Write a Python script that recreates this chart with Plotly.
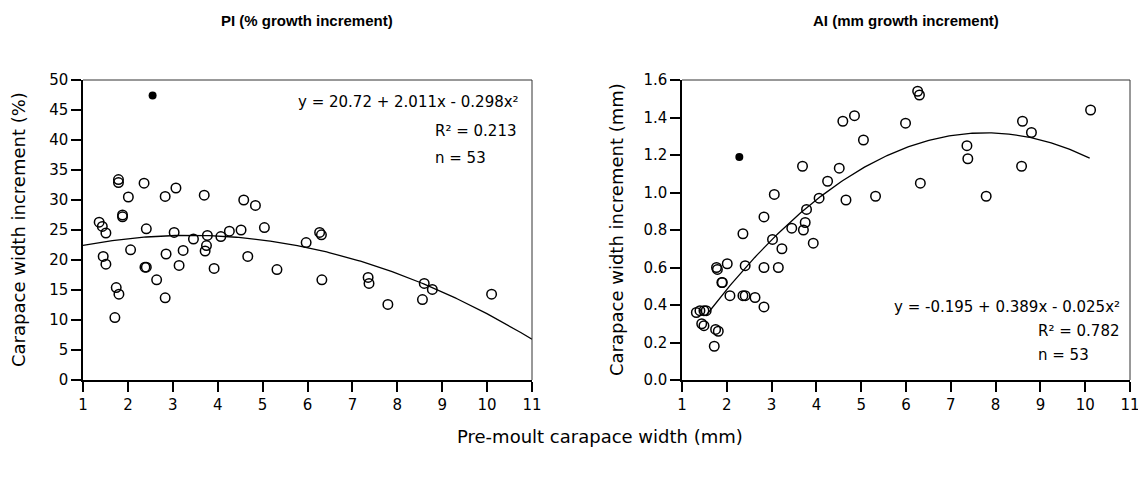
import numpy as np
import plotly.graph_objects as go

# ---------------- data ----------------
pi_x = [1.36, 1.43, 1.51, 1.45, 1.51, 1.79, 1.79, 1.88, 1.88, 1.74, 1.80, 1.71, 2.01, 2.06,
        2.36, 2.41, 2.38, 2.41, 2.64, 2.83, 2.85, 2.83, 3.07, 3.03, 3.14, 3.23, 3.46, 3.70,
        3.77, 3.75, 3.72, 3.92, 4.07, 4.26, 4.52, 4.58, 4.84, 4.67, 5.04, 5.32, 5.97, 6.27,
        6.31, 6.32, 7.35, 7.37, 7.79, 8.56, 8.60, 8.78, 10.10]
pi_y = [26.3, 25.6, 24.5, 20.6, 19.3, 33.4, 32.9, 27.5, 27.2, 15.4, 14.3, 10.4, 30.5, 21.7,
        32.8, 25.2, 18.8, 18.8, 16.7, 30.6, 21.0, 13.7, 32.0, 24.6, 19.1, 21.6, 23.5, 30.8,
        24.1, 22.4, 21.5, 18.6, 23.9, 24.8, 25.0, 30.0, 29.1, 20.6, 25.4, 18.4, 22.9, 24.6,
        24.2, 16.7, 17.1, 16.1, 12.6, 13.4, 16.1, 15.1, 14.3]
pi_out_x = [2.55]
pi_out_y = [47.4]
pi_coef = [20.72, 2.011, -0.298]

ai_x = [1.32, 1.40, 1.49, 1.54, 1.44, 1.49, 1.72, 1.75, 1.81, 1.77, 1.79, 1.89, 1.90, 2.01,
        2.07, 2.36, 2.41, 2.36, 2.41, 2.63, 2.83, 2.83, 2.83, 3.06, 3.02, 3.15, 3.23, 3.45,
        3.69, 3.71, 3.75, 3.78, 3.93, 4.06, 4.25, 4.51, 4.59, 4.85, 4.66, 5.05, 6.26, 6.30,
        5.99, 6.32, 5.32, 7.36, 7.38, 7.79, 8.60, 8.80, 8.58, 10.12]
ai_y = [0.36, 0.37, 0.37, 0.37, 0.30, 0.29, 0.18, 0.27, 0.26, 0.60, 0.59, 0.52, 0.52, 0.62,
        0.45, 0.78, 0.61, 0.45, 0.45, 0.44, 0.87, 0.60, 0.39, 0.99, 0.75, 0.60, 0.70, 0.81,
        1.14, 0.80, 0.84, 0.91, 0.73, 0.97, 1.06, 1.13, 1.38, 1.41, 0.96, 1.28, 1.54, 1.52,
        1.37, 1.05, 0.98, 1.25, 1.18, 0.98, 1.38, 1.32, 1.14, 1.44]
ai_out_x = [2.28]
ai_out_y = [1.19]
ai_coef = [-0.195, 0.389, -0.025]

x_ticks = [1, 2, 3, 4, 5, 6, 7, 8, 9, 10, 11]
pi_yticks = [0, 5, 10, 15, 20, 25, 30, 35, 40, 45, 50]
ai_yticks = [0.0, 0.2, 0.4, 0.6, 0.8, 1.0, 1.2, 1.4, 1.6]

W, H = 1146, 480
OFF = 8  # page body margin in the browser
def px(v):
    return (v - OFF) / W
def py(v):
    return 1 - (v - OFF) / H

FONT = "DejaVu Sans, Liberation Sans, Arial, sans-serif"
TFONT = "Liberation Sans, Arial, sans-serif"

fig = go.Figure()

def quad(c, xs):
    xs = np.asarray(xs)
    return c[0] + c[1] * xs + c[2] * xs ** 2

# left panel
fig.add_trace(go.Scatter(x=pi_x, y=pi_y, mode="markers", xaxis="x", yaxis="y",
                         marker=dict(symbol="circle-open", size=9.5, color="black",
                                     line=dict(width=1.5, color="black")), showlegend=False))
fig.add_trace(go.Scatter(x=pi_out_x, y=pi_out_y, mode="markers", xaxis="x", yaxis="y",
                         marker=dict(symbol="circle", size=8, color="black"), showlegend=False))
lx = np.linspace(1, 11, 200)
fig.add_trace(go.Scatter(x=lx, y=quad(pi_coef, lx), mode="lines", xaxis="x", yaxis="y",
                         line=dict(color="black", width=1.3), showlegend=False))

# right panel
fig.add_trace(go.Scatter(x=ai_x, y=ai_y, mode="markers", xaxis="x2", yaxis="y2",
                         marker=dict(symbol="circle-open", size=9.5, color="black",
                                     line=dict(width=1.5, color="black")), showlegend=False))
fig.add_trace(go.Scatter(x=ai_out_x, y=ai_out_y, mode="markers", xaxis="x2", yaxis="y2",
                         marker=dict(symbol="circle", size=8, color="black"), showlegend=False))
rx = np.linspace(1.55, 10.1, 200)
fig.add_trace(go.Scatter(x=rx, y=quad(ai_coef, rx), mode="lines", xaxis="x2", yaxis="y2",
                         line=dict(color="black", width=1.3), showlegend=False))

axis_common = dict(showline=True, linecolor="black", linewidth=1.5, ticks="outside",
                   ticklen=10, tickwidth=1.5, tickcolor="black", showgrid=False,
                   zeroline=False, tickfont=dict(family=FONT, size=15, color="black"),
                   mirror=False, automargin=False)

ydom = [py(380), py(80)]
fig.update_layout(
    width=W, height=H, margin=dict(l=0, r=0, t=0, b=0, autoexpand=False),
    paper_bgcolor="white", plot_bgcolor="white",
    font=dict(family=FONT, color="black"),
    xaxis=dict(domain=[px(83), px(532)], range=[1, 11], tickvals=x_ticks, anchor="y", **axis_common),
    yaxis=dict(domain=ydom, range=[0, 50], tickvals=pi_yticks, anchor="x", **axis_common),
    xaxis2=dict(domain=[px(682), px(1130)], range=[1, 11], tickvals=x_ticks, anchor="y2", **axis_common),
    yaxis2=dict(domain=ydom, range=[0, 1.6], tickvals=ai_yticks, tickformat=".1f", anchor="x2", **axis_common),
)

# frame top/right
for xa, ya in [("x", "y"), ("x2", "y2")]:
    fig.add_shape(type="line", xref=f"{xa} domain", yref=f"{ya} domain", x0=0, x1=1, y0=1, y1=1,
                  line=dict(color="#333333", width=1))
    fig.add_shape(type="line", xref=f"{xa} domain", yref=f"{ya} domain", x0=1, x1=1, y0=0, y1=1,
                  line=dict(color="#333333", width=1))

def ann(text, x, y, xanchor="center", size=14, bold=False, angle=0, family=FONT):
    fig.add_annotation(text=f"<b>{text}</b>" if bold else text, x=px(x), y=py(y),
                       xref="paper", yref="paper", xanchor=xanchor, yanchor="middle",
                       showarrow=False, textangle=angle,
                       font=dict(family=family, size=size, color="black"))

ann("PI (% growth increment)", 307, 20, size=15, bold=True, family=TFONT)
ann("AI (mm growth increment)", 906, 20, size=15, bold=True, family=TFONT)
ann("Pre-moult carapace width (mm)", 600, 436, size=18)
ann("Carapace width increment (%)", 18, 230, size=18, angle=-90)
ann("Carapace width increment (mm)", 616, 230, size=18, angle=-90)

ann("y = 20.72 + 2.011x - 0.298x²", 521, 102, xanchor="right", size=15)
ann("R² = 0.213", 433, 131, xanchor="left", size=15)
ann("n = 53", 433, 158, xanchor="left", size=15)

ann("y = -0.195 + 0.389x - 0.025x²", 1122, 307, xanchor="right", size=15)
ann("R² = 0.782", 1036, 331, xanchor="left", size=15)
ann("n = 53", 1036, 355, xanchor="left", size=15)

fig.write_html("out.html")
